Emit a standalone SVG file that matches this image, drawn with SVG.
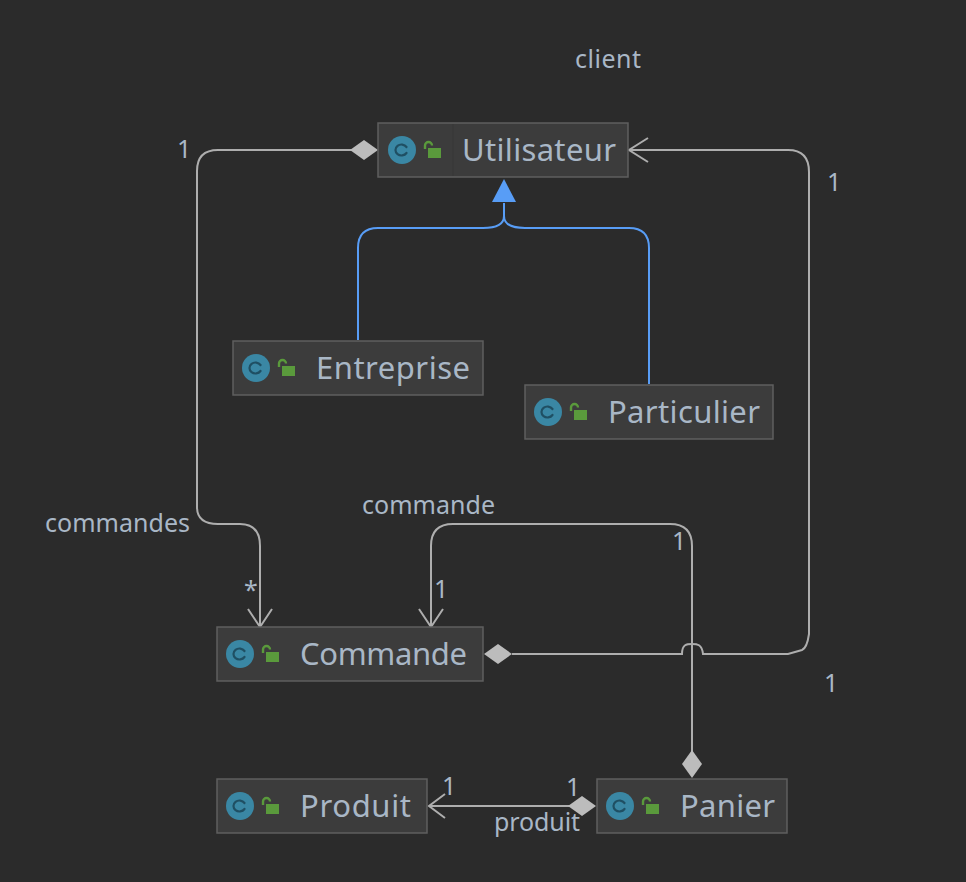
<svg xmlns="http://www.w3.org/2000/svg" width="966" height="882" viewBox="0 0 966 882">
<style>
text{font-family:"Noto Sans","Open Sans","DejaVu Sans",sans-serif;fill:#a9b7c6}
.box{fill:#3c3c3c;stroke:#5f5f5f;stroke-width:1.5}
.title{font-size:31px}
.lab{font-size:25px}
.c{fill:#3a87a4}
.cg{fill:none;stroke:#1f4f63;stroke-width:2.2;stroke-linecap:round}
.lk{fill:#5a9a3c}
.ls{fill:none;stroke:#5a9a3c;stroke-width:2.4}
.e{fill:none;stroke:#aeaeae;stroke-width:2}
.b{fill:none;stroke:#589df6;stroke-width:2}
.d{fill:#bcbcbc}
</style>
<defs>
<g id="icons">
<circle class="c" cx="14" cy="14" r="14"/>
<path class="cg" d="M18.500 11A6 5.500 0 1 0 18.500 17"/>
<path class="ls" d="M37 13V9.500a3.500 3.500 0 0 1 7 0"/>
<rect class="lk" x="40" y="12" width="13" height="10"/>
</g>
</defs>
<rect width="966" height="882" fill="#2b2b2b"/>
<g id="connectors">
<path class="e" d="M352 150H218Q197 150 197 171V507Q197 524 218 524H240Q260 524 260 546V626"/>
<path class="e" d="M248 609L260 627L272 609"/>
<path class="e" d="M629 150H788Q809 150 809 172V634Q807 648 802 650L788 654H703C702 644 697 644 692 644C687 644 682 644 682 654H512"/>
<path class="e" d="M648 138L629 150L648 162"/>
<path class="e" d="M692 752V546Q692 524 670 524H453Q431 524 431 546V626"/>
<path class="e" d="M419 609L431 627L443 609"/>
<path class="e" d="M429 806H570"/>
<path class="e" d="M445 794L429 806L445 818"/>
<path class="d" d="M378 150L364 140L350 150L364 160Z"/>
<path class="d" d="M484 654L498 644L512 654L498 664Z"/>
<path class="d" d="M692 778L682 764L692 750L702 764Z"/>
<path class="d" d="M596 806L582 796L568 806L582 816Z"/>
<path class="b" d="M358 340V248Q358 228 378 228H483Q504 228 504 216V203"/>
<path class="b" d="M649 384V248Q649 228 629 228H525Q504 228 504 216V203"/>
<path fill="#589df6" d="M504 179L492 202H516Z"/>
</g>
<g id="Utilisateur">
<rect class="box" x="378" y="123" width="250" height="54"/>
<path d="M453 124V176" stroke="#363636" stroke-width="1"/>
<use href="#icons" x="388" y="136"/>
<text class="title" x="462" y="161" textLength="154">Utilisateur</text>
</g>
<g id="Entreprise">
<rect class="box" x="233" y="341" width="250" height="54"/>
<use href="#icons" x="242" y="354"/>
<text class="title" x="316" y="379" textLength="154">Entreprise</text>
</g>
<g id="Particulier">
<rect class="box" x="525" y="385" width="248" height="54"/>
<use href="#icons" x="534" y="398"/>
<text class="title" x="608" y="423" textLength="152">Particulier</text>
</g>
<g id="Commande">
<rect class="box" x="217" y="627" width="266" height="54"/>
<use href="#icons" x="226" y="640"/>
<text class="title" x="300" y="665" textLength="167">Commande</text>
</g>
<g id="Produit">
<rect class="box" x="217" y="779" width="210" height="54"/>
<use href="#icons" x="226" y="792"/>
<text class="title" x="300" y="817" textLength="111">Produit</text>
</g>
<g id="Panier">
<rect class="box" x="597" y="779" width="190" height="54"/>
<use href="#icons" x="606" y="792"/>
<text class="title" x="680" y="817" textLength="95">Panier</text>
</g>
<g id="labels">
<text class="lab" x="575" y="68" textLength="66">client</text>
<text class="lab" x="177" y="158">1</text>
<text class="lab" x="827" y="191">1</text>
<text class="lab" x="45" y="532" textLength="145">commandes</text>
<text class="lab" x="244" y="599">*</text>
<text class="lab" x="362" y="514" textLength="133">commande</text>
<text class="lab" x="672" y="550">1</text>
<text class="lab" x="434" y="598">1</text>
<text class="lab" x="824" y="692">1</text>
<text class="lab" x="442" y="795">1</text>
<text class="lab" x="566" y="796">1</text>
<text class="lab" x="494" y="831" textLength="86">produit</text>
</g>
</svg>
